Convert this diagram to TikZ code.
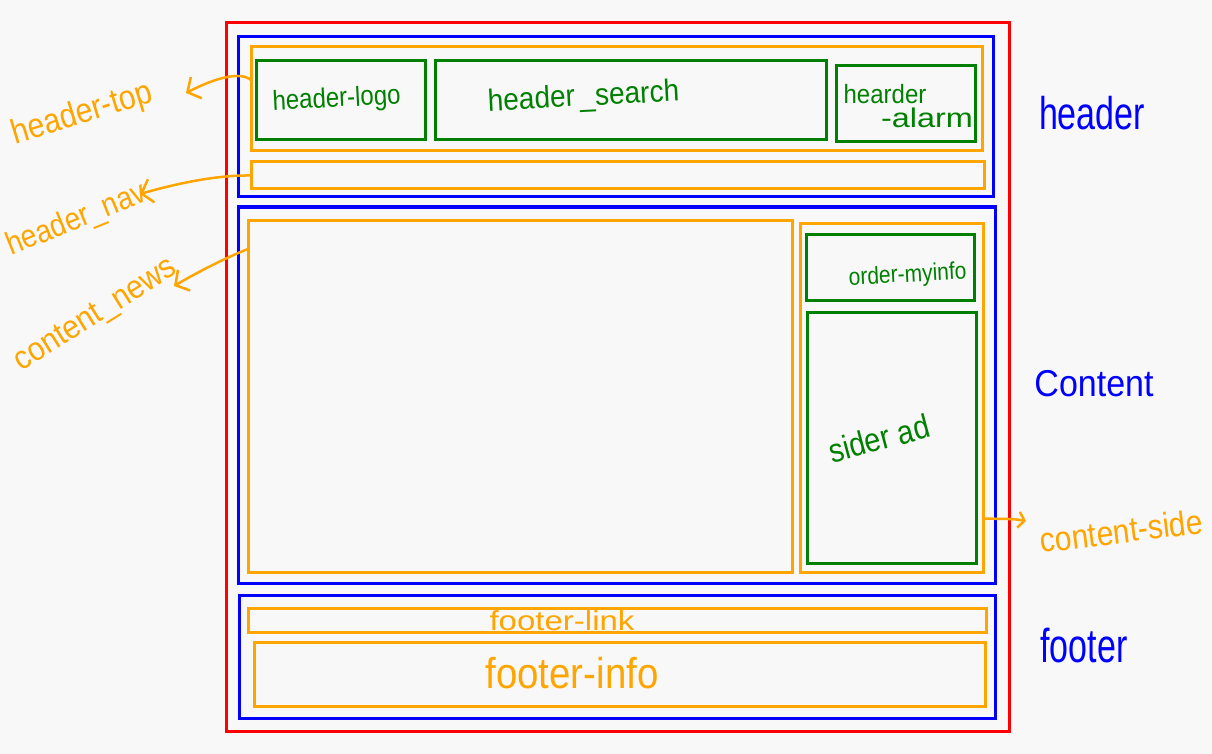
\documentclass[tikz,border=0pt]{standalone}
\usepackage{fontspec}
\setmainfont{Liberation Sans}
\usetikzlibrary{arrows.meta,fit,calc}
\definecolor{bg}{HTML}{F8F8F8}
\definecolor{cred}{HTML}{FF0000}
\definecolor{cblue}{HTML}{0000FF}
\definecolor{corange}{HTML}{FFA500}
\definecolor{cgreen}{HTML}{008000}
\newcommand{\tall}[2]{\scalebox{1}[#1]{#2}}
\begin{document}
\begin{tikzpicture}[x=1pt,y=-1pt,
  frame/.style={draw=#1, line width=3pt, inner sep=0pt, outer sep=0pt, rectangle},
  hand/.style={text=#1, inner sep=0pt, anchor=base},
  arr/.style={draw=corange, line width=2.5pt, line cap=round, line join=round,
    -{Straight Barb[length=10pt,width=24pt,line width=2.5pt]}},
  arrs/.style={draw=corange, line width=2.5pt, line cap=round, line join=round,
    -{Straight Barb[length=6pt,width=16pt,line width=2.5pt]}}
]
\fill[bg] (0,0) rectangle (1212,754);
\useasboundingbox (0,0) rectangle (1212,754);

% frames
\node[frame=cred, fit={(226,23) (1009,731)}] (page) {};
\node[frame=cblue, fit={(238,37) (993,197)}] (header) {};
\node[frame=corange, fit={(251,47) (982,151)}] (htop) {};
\node[frame=cgreen, fit={(256,61) (425,140)}] (logo) {};
\node[frame=cgreen, fit={(435,61) (826,140)}] (search) {};
\node[frame=cgreen, fit={(836,66) (975,142)}] (alarm) {};
\node[frame=corange, fit={(251,162) (984,189)}] (nav) {};
\node[frame=cblue, fit={(238,207) (995,583)}] (content) {};
\node[frame=corange, fit={(248,220) (792,572)}] (news) {};
\node[frame=corange, fit={(800,223) (983,572)}] (side) {};
\node[frame=cgreen, fit={(806,234) (974,300)}] (myinfo) {};
\node[frame=cgreen, fit={(807,312) (976,563)}] (ad) {};
\node[frame=cblue, fit={(239,595) (995,718)}] (footer) {};
\node[frame=corange, fit={(248,608) (986,632)}] (flink) {};
\node[frame=corange, fit={(254,642) (985,706)}] (finfo) {};

% inner labels
\node[hand=cgreen, font=\fontsize{24}{24}\selectfont, rotate=3] (tlogo) at (337,107) {\tall{1.15}{header-logo}};
\node[hand=cgreen, font=\fontsize{28}{28}\selectfont, rotate=3] (tsearch) at (584,106) {\tall{1.1}{header\,\_search}};
\node[hand=cgreen, font=\fontsize{24}{24}\selectfont] (talarm1) at (885,104) {\tall{1.1}{hearder}};
\node[hand=cgreen, font=\fontsize{27}{27}\selectfont] (talarm2) at (927,128) {\scalebox{1.2}[1]{-alarm}};
\node[hand=cgreen, font=\fontsize{21}{21}\selectfont, rotate=3] (tmyinfo) at (908,282) {\tall{1.15}{order-myinfo}};
\node[hand=cgreen, font=\fontsize{29}{29}\selectfont, rotate=15] (tad) at (882,450) {\tall{1.15}{sider ad}};
\node[hand=corange, font=\fontsize{22}{22}\selectfont] (tflink) at (562,630) {\scalebox{1.5}[1.25]{footer-link}};
\node[hand=corange, font=\fontsize{32}{32}\selectfont] (tfinfo) at (572,688) {\scalebox{1.2}[1.35]{footer-info}};

% blue labels
\node[hand=cblue, font=\fontsize{34}{34}\selectfont] (lheader) at (1092,130) {\tall{1.35}{header}};
\node[hand=cblue, font=\fontsize{34}{34}\selectfont] (lcontent) at (1094,396) {\tall{1.1}{Content}};
\node[hand=cblue, font=\fontsize{34}{34}\selectfont] (lfooter) at (1084,662) {\tall{1.4}{footer}};

% orange outside labels
\node[hand=corange, font=\fontsize{30}{30}\selectfont, rotate=17] (ltop) at (85,123) {\tall{1.15}{header-top}};
\node[hand=corange, font=\fontsize{28}{28}\selectfont, rotate=22] (lnav) at (80,228) {\tall{1.15}{header\_nav}};
\node[hand=corange, font=\fontsize{30}{30}\selectfont, rotate=32] (lnews) at (100,322) {\tall{1.1}{content\_news}};
\node[hand=corange, font=\fontsize{30}{30}\selectfont, rotate=7] (lside) at (1123,543) {\tall{1.15}{content-side}};

% arrow tips
\coordinate (tipTop) at (186,93);
\coordinate (tipNav) at (140,194);
\coordinate (tipNews) at (174,286);
\coordinate (tipSide) at (1026,521);

\draw[arr] ([yshift=19pt]htop.west) .. controls (240,71) and (215,78) .. (tipTop);
\draw[arr] (nav.west) .. controls (215,175) and (175,184) .. (tipNav);
\draw[arr] ([yshift=147pt]news.west) .. controls (225,258) and (198,272) .. (tipNews);
\draw[arrs] ([yshift=-121pt]side.east) -- (1008,519) .. controls (1015,519) and (1020,520) .. (tipSide);
\end{tikzpicture}
\end{document}
